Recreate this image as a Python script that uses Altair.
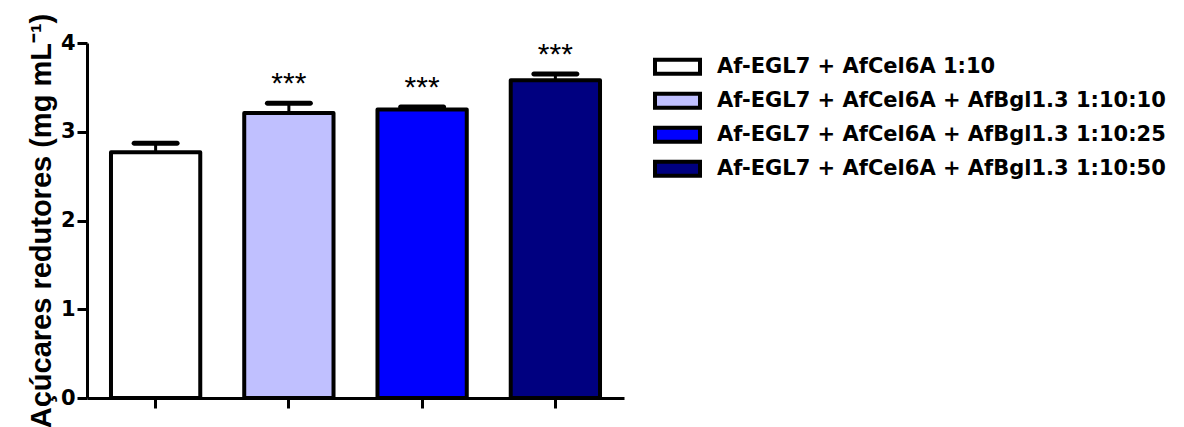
import altair as alt
import pandas as pd

# Reducing sugars released by each enzyme combination (mean and upper SD)
groups = [
    "Af-EGL7 + AfCel6A 1:10",
    "Af-EGL7 + AfCel6A + AfBgl1.3 1:10:10",
    "Af-EGL7 + AfCel6A + AfBgl1.3 1:10:25",
    "Af-EGL7 + AfCel6A + AfBgl1.3 1:10:50",
]
means = [2.77, 3.21, 3.25, 3.58]
errors = [0.10, 0.11, 0.03, 0.07]
signif = ["", "***", "***", "***"]
fills = ["#FFFFFF", "#C0C0FF", "#0000FF", "#000080"]

df = pd.DataFrame({
    "group": groups,
    "mean": means,
    "err": errors,
    "sig": signif,
})
df["upper"] = df["mean"] + df["err"]

x_scale = alt.Scale(paddingInner=0.33, paddingOuter=0.18)
y_scale = alt.Scale(domain=[0, 4], nice=False)

x_axis = alt.Axis(title=None, labels=False)
y_axis = alt.Axis(title="Açúcares redutores (mg mL⁻¹)", values=[0, 1, 2, 3, 4], format="d", grid=False)

x_enc = alt.X("group:N", sort=groups, scale=x_scale, axis=x_axis)

bars = alt.Chart(df).mark_bar(stroke="black", strokeWidth=4, strokeJoin="round").encode(
    x=x_enc,
    y=alt.Y("mean:Q", scale=y_scale, axis=y_axis),
    fill=alt.Fill(
        "group:N",
        sort=groups,
        scale=alt.Scale(domain=groups, range=fills),
        legend=alt.Legend(
            title=None, orient="none", legendX=566, legendY=7,
            symbolType="M-1,-0.31H1V0.31H-1Z", symbolSize=2025,
            symbolStrokeColor="black", symbolStrokeWidth=4, symbolOpacity=1,
            clipHeight=33.5, rowPadding=0, padding=0, labelOffset=15,
            labelFont="DejaVu Sans", labelFontWeight="bold", labelFontSize=21,
            labelColor="black", labelLimit=600,
        ),
    ),
)

stems = alt.Chart(df).mark_rule(color="black", strokeWidth=3).encode(
    x=x_enc,
    y=alt.Y("mean:Q", scale=y_scale, axis=y_axis),
    y2="upper:Q",
)

caps = alt.Chart(df).mark_tick(
    color="black", thickness=5, size=48, cornerRadius=2.5, opacity=1
).encode(
    x=x_enc,
    y=alt.Y("upper:Q", scale=y_scale, axis=y_axis),
)

stars = alt.Chart(df).mark_text(
    font="Liberation Sans", fontSize=30, color="black", baseline="alphabetic", dy=-10
).encode(
    x=x_enc,
    y=alt.Y("upper:Q", scale=y_scale, axis=y_axis),
    text="sig:N",
)

chart = (
    alt.layer(bars, stems, caps, stars)
    .properties(
        width=537,
        height=355,
        autosize=alt.AutoSizeParams(type="none"),
        padding={"left": 87, "top": 43, "right": 560, "bottom": 29},
    )
    .configure(background="white")
    .configure_view(strokeWidth=0, stroke="transparent")
    .configure_axis(
        tickSize=10, tickWidth=3, tickColor="black",
        domainColor="black", domainWidth=3, zindex=1, grid=False,
        labelFont="DejaVu Sans", labelFontWeight="bold", labelFontSize=21,
        labelColor="black", labelPadding=2,
        titleFont="Liberation Sans", titleFontWeight="bold", titleFontSize=29,
        titleColor="black", titlePadding=4,
    )
)

chart.save("out.html", embed_options={"renderer": "svg", "actions": False})
